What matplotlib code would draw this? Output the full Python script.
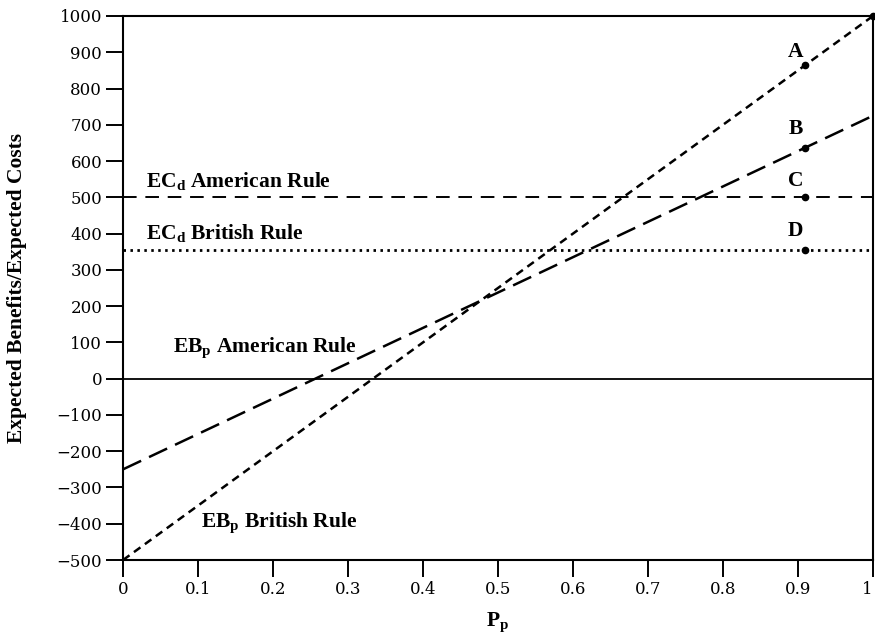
import numpy as np
import matplotlib
matplotlib.use("Agg")
from matplotlib import pyplot as plt

plt.rcParams['font.family'] = ['Liberation Serif', 'DejaVu Serif']
plt.rcParams['mathtext.fontset'] = 'custom'
plt.rcParams['mathtext.rm'] = 'Liberation Serif:bold'
plt.rcParams['mathtext.bf'] = 'Liberation Serif:bold'
plt.rcParams['axes.unicode_minus'] = True

# data
p_range = [0.0, 1.0]
eb_british = [-500, 1000]      # EB_p British Rule
eb_american = [-250, 725]      # EB_p American Rule
ec_american = 500              # EC_d American Rule
ec_british = 355               # EC_d British Rule

point_names = ['A', 'B', 'C', 'D']
point_x = [0.91, 0.91, 0.91, 0.91]
point_y = [865, 637, 500, 355]

yticks = list(range(-500, 1001, 100))
xticks = [0, 0.1, 0.2, 0.3, 0.4, 0.5, 0.6, 0.7, 0.8, 0.9, 1]
xtick_labels = ['0', '0.1', '0.2', '0.3', '0.4', '0.5', '0.6', '0.7', '0.8', '0.9', '1']

fig = plt.figure(figsize=(8.75, 6.34), dpi=100)
ax = fig.add_axes([0.1406, 0.1167, 0.8571, 0.8581])

lw = 1.8
ax.plot(p_range, eb_british, color='black', lw=lw, dashes=(3.2, 2.2))
ax.plot(p_range, eb_american, color='black', lw=lw, dashes=(8, 3.5))
ax.axhline(ec_american, color='black', lw=1.4, dashes=(7, 4.5))
ax.axhline(ec_british, color='black', lw=2.0, dashes=(0.9, 1.6))
ax.axhline(0, color='black', lw=1.3)

ax.plot(point_x, point_y, 'o', color='black', ms=4.5)
ax.plot([1.0], [1000], 'o', color='black', ms=4.5, clip_on=False)

label_kw = dict(fontsize=15.5, fontweight='bold', color='black')
name_offsets = [35, 52, 45, 52]
for name, x, y, dy in zip(point_names, point_x, point_y, name_offsets):
    ax.text(x - 0.013, y + dy, name, ha='center', va='center', **label_kw)

ax.text(0.03, 511, r'EC$_{\mathrm{d}}$ American Rule', va='bottom', **label_kw)
ax.text(0.03, 369, r'EC$_{\mathrm{d}}$ British Rule', va='bottom', **label_kw)
ax.text(0.067, 48, r'EB$_{\mathrm{p}}$ American Rule', va='bottom', **label_kw)
ax.text(0.104, -433, r'EB$_{\mathrm{p}}$ British Rule', va='bottom', **label_kw)

ax.set_xlim(0, 1)
ax.set_ylim(-500, 1000)
ax.set_yticks(yticks)
ax.set_xticks(xticks)
ax.set_xticklabels(xtick_labels)
ax.tick_params(direction='out', length=12, width=1.4, pad=3)
for lab in ax.get_xticklabels() + ax.get_yticklabels():
    lab.set_fontfamily('DejaVu Serif')
    lab.set_fontsize(12)
# last x label sits at the figure edge, keep it inside
ax.get_xticklabels()[-1].set_horizontalalignment('right')
for s in ax.spines.values():
    s.set_linewidth(1.5)

ax.set_ylabel('Expected Benefits/Expected Costs', fontsize=15.5, fontweight='bold')
ax.yaxis.set_label_coords(-0.128, 0.5)
ax.set_xlabel(r'P$_{\mathrm{p}}$', fontsize=15.5, fontweight='bold')
ax.xaxis.set_label_coords(0.5, -0.093)

fig.savefig('out.png', dpi=100)
